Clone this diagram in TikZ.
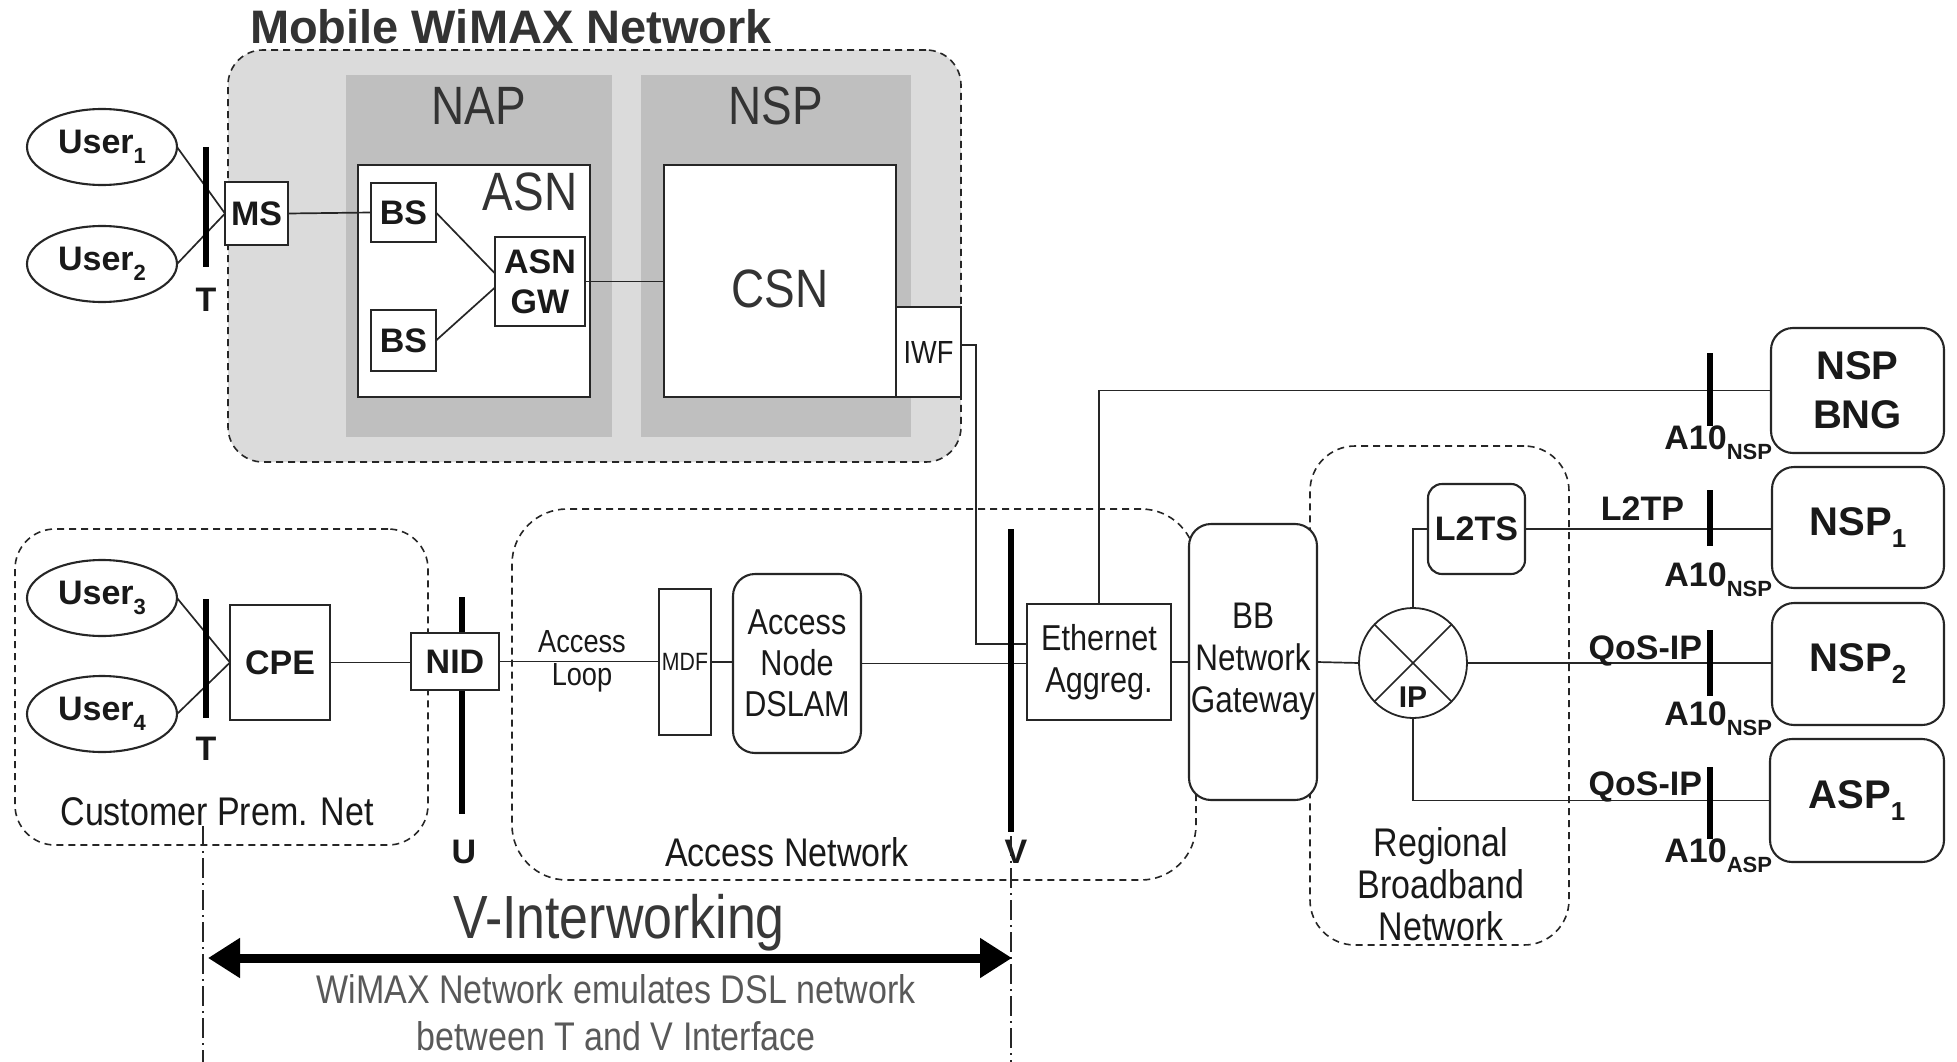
\documentclass[tikz,border=0pt]{standalone}
\usepackage{fontspec}
\setmainfont{Liberation Sans}
\newfontfamily\nf[FakeStretch=0.85]{Liberation Sans}
\usetikzlibrary{shapes.geometric,arrows.meta}
\newcommand\fsz[2]{\fontsize{#1}{#2}\selectfont}
\newcommand\lsub[2]{\raisebox{-0.3em}{\fontsize{#1}{#1}\selectfont #2}}
\begin{document}
\begin{tikzpicture}[x=1pt,y=-1pt,
  every node/.style={inner sep=0pt, outer sep=0pt, text=black!90},
  box/.style={draw=black!85, line width=2.1pt, fill=white},
  rbox/.style={box, rounded corners=16pt},
  wire/.style={draw=black!85, line width=1.7pt},
  bar/.style={draw=black, line width=6pt},
  dbox/.style={draw=black!85, line width=1.6pt, dash pattern=on 7pt off 5pt, rounded corners=40pt},
  bl/.style={font=\bfseries\fsz{34}{40}},
  rl/.style={font=\nf\fsz{38}{43}},
  dd/.style={draw=black!85, line width=1.4pt, dash pattern=on 20pt off 5pt on 2pt off 5pt},
]
\useasboundingbox (0,0) rectangle (1957,1062);

% ---------- Mobile WiMAX network ----------
\node[font=\bfseries\fsz{47}{50}, text=black!80] (title) at (511,27) {Mobile WiMAX Network};
\node[dbox, fill=gray!28, rounded corners=35pt, minimum width=733, minimum height=412] (wimax) at (594.5,256) {};
\node[fill=gray!50, minimum width=266, minimum height=362] (nap) at (479,256) {};
\node[fill=gray!50, minimum width=270, minimum height=362] (nsp) at (776,256) {};
\node[font=\nf\fsz{54}{58}, text=black!80] (naplbl) at (479,106) {NAP};
\node[font=\nf\fsz{54}{58}, text=black!80] (nsplbl) at (776,106) {NSP};
\node[box, minimum width=232, minimum height=232] (asn) at (474,281) {};
\node[font=\nf\fsz{54}{58}, text=black!80] (asnlbl) at (530,192) {ASN};
\node[box, bl, minimum width=65, minimum height=59] (bs1) at (403.5,212.5) {BS};
\node[box, bl, minimum width=65, minimum height=61] (bs2) at (403.5,340.5) {BS};
\node[box, bl, align=center, minimum width=90, minimum height=89] (asngw) at (540,281.5) {ASN\\GW};
\node[box, minimum width=232, minimum height=232] (csn) at (780,281) {};
\node[font=\nf\fsz{54}{58}, text=black!80] (csnlbl) at (780,289) {CSN};
\node[box, font=\nf\fsz{32}{36}, minimum width=65, minimum height=90] (iwf) at (928.5,352) {IWF};
\node[box, bl, minimum width=63, minimum height=63] (ms) at (256.5,213.5) {MS};
\node[draw=black!85, line width=2.1pt, ellipse, fill=white, bl, minimum width=150, minimum height=76] (u1) at (102,147) {User\lsub{22}{1}};
\node[draw=black!85, line width=2.1pt, ellipse, fill=white, bl, minimum width=150, minimum height=76] (u2) at (102,264) {User\lsub{22}{2}};
\coordinate (t1a) at (206,147);
\coordinate (t1b) at (206,267);
\node[bl] (t1lbl) at (206,300) {T};

% ---------- Customer premises / access ----------
\node[dbox, minimum width=413, minimum height=316] (cpn) at (221.5,687) {};
\node[font=\nf\fsz{40}{44}] (cpnlbl) at (217,812) {Customer Prem. Net};
\node[dbox, rounded corners=55pt, minimum width=684, minimum height=371] (an) at (854,694.5) {};
\node[font=\nf\fsz{40}{44}] (anlbl) at (787,852) {Access Network};
\node[dbox, rounded corners=45pt, minimum width=259, minimum height=499] (rbn) at (1439.5,695.5) {};
\node[font=\nf\fsz{40}{42}, align=center] (rbnlbl) at (1441,884) {Regional\\Broadband\\Network};

\node[draw=black!85, line width=2.1pt, ellipse, fill=white, bl, minimum width=150, minimum height=76] (u3) at (102,598) {User\lsub{22}{3}};
\node[draw=black!85, line width=2.1pt, ellipse, fill=white, bl, minimum width=150, minimum height=76] (u4) at (102,714) {User\lsub{22}{4}};
\coordinate (t2a) at (206,599);
\coordinate (t2b) at (206,718);
\node[bl] (t2lbl) at (206,749) {T};
\node[box, bl, minimum width=100, minimum height=115] (cpe) at (280,662.5) {CPE};
\coordinate (ua) at (462,597);
\coordinate (ub) at (462,814);
\draw[bar] (ua) -- (ub);
\node[box, bl, minimum width=88, minimum height=57] (nid) at (455,661.5) {NID};
\node[bl] (ulbl) at (464,852) {U};
\node[font=\nf\fsz{32}{33}, align=center] (loop) at (582,661) {Access\\Loop};
\node[box, font=\nf\fsz{25}{28}, minimum width=52, minimum height=146] (mdf) at (685,662) {MDF};
\node[box, rounded corners=22pt, font=\nf\fsz{36}{41}, align=center, minimum width=128, minimum height=179] (dslam) at (797,663.5) {Access\\Node\\DSLAM};
\node[box, font=\nf\fsz{36}{42}, align=center, minimum width=144, minimum height=116] (eth) at (1099,662) {Ethernet\\Aggreg.};
\node[box, rounded corners=22pt, font=\nf\fsz{37}{42}, align=center, minimum width=128, minimum height=276] (bbng) at (1253,662) {BB\\Network\\Gateway};
\coordinate (va) at (1011,529);
\coordinate (vb) at (1011,832);
\node[bl] (vlbl) at (1016,852) {V};

\node[draw=black!85, line width=1.8pt, ellipse, fill=white, minimum width=108, minimum height=110] (ip) at (1413,663) {};
\draw[wire] (ip.45) -- (ip.225);
\draw[wire] (ip.135) -- (ip.315);
\node[font=\bfseries\fsz{30}{34}, fill=white, inner sep=1pt] (iplbl) at (1413,697) {IP};
\node[rbox, bl, rounded corners=14pt, minimum width=97, minimum height=90] (l2ts) at (1476.5,529) {L2TS};

\node[rbox, rounded corners=22pt, font=\bfseries\fsz{40}{49}, align=center, minimum width=173, minimum height=125] (bng) at (1857.5,390.5) {NSP\\BNG};
\node[rbox, rounded corners=22pt, font=\bfseries\fsz{40}{49}, minimum width=172, minimum height=121] (nsp1) at (1858,527.5) {NSP\lsub{26}{1}};
\node[rbox, rounded corners=22pt, font=\bfseries\fsz{40}{49}, minimum width=172, minimum height=122] (nsp2) at (1858,664) {NSP\lsub{26}{2}};
\node[rbox, rounded corners=22pt, font=\bfseries\fsz{40}{49}, minimum width=174, minimum height=123] (asp1) at (1857,800.5) {ASP\lsub{26}{1}};

% ---------- wires ----------
\draw[wire] (u1.east) -- (ms.west);
\draw[wire] (u2.east) -- (ms.west);
\draw[wire] (ms.east) -- (bs1.west);
\draw[wire] (bs1.east) -- ([yshift=8pt]asngw.west);
\draw[wire] (bs2.east) -- ([yshift=-6pt]asngw.west);
\draw[wire] (asngw.east) -- (asngw.east -| csn.west);
\draw[wire] ([yshift=7pt]iwf.east) -- ++(15,0) |- ([yshift=18pt]eth.west);
\draw[wire] (u3.east) -- (cpe.west);
\draw[wire] (u4.east) -- (cpe.west);
\draw[wire] (cpe.east) -- (cpe.east -| nid.west);
\draw[wire] (nid.east) -- (nid.east -| mdf.west);
\draw[wire] (mdf.east) -- (mdf.east -| dslam.west);
\draw[wire] (dslam.east) -- (dslam.east -| eth.west);
\draw[wire] (eth.north) |- (bng.west);
\draw[wire] (eth.east) -- (eth.east -| bbng.west);
\draw[wire] (bbng.east) -- (ip.west);
\draw[wire] (ip.north) |- (l2ts.west);
\draw[wire] (l2ts.east) -- (l2ts.east -| nsp1.west);
\draw[wire] (ip.east) -- (ip.east -| nsp2.west);
\draw[wire] (ip.south) |- (asp1.west);

% ---------- interface bars ----------
\draw[bar] (t1a) -- (t1b);
\draw[bar] (t2a) -- (t2b);
\draw[bar] (va) -- (vb);
\coordinate (a1a) at (1710,353); \coordinate (a1b) at (1710,426);
\coordinate (a2a) at (1710,490); \coordinate (a2b) at (1710,546);
\coordinate (a3a) at (1710,630); \coordinate (a3b) at (1710,696);
\coordinate (a4a) at (1710,767); \coordinate (a4b) at (1710,839);
\draw[bar] (a1a) -- (a1b);
\draw[bar] (a2a) -- (a2b);
\draw[bar] (a3a) -- (a3b);
\draw[bar] (a4a) -- (a4b);
\node[bl, anchor=base east] (a1lbl) at (1772,449) {A10\lsub{22}{NSP}};
\node[bl, anchor=base east] (a2lbl) at (1772,586) {A10\lsub{22}{NSP}};
\node[bl, anchor=base east] (a3lbl) at (1772,725) {A10\lsub{22}{NSP}};
\node[bl, anchor=base east] (a4lbl) at (1772,862) {A10\lsub{22}{ASP}};
\node[bl, anchor=base east] (l2tp) at (1684,520) {L2TP};
\node[bl, anchor=base east] (qos1) at (1702,659) {QoS-IP};
\node[bl, anchor=base east] (qos2) at (1702,795) {QoS-IP};

% ---------- V-interworking ----------
\coordinate (d1a) at (203,826); \coordinate (d1b) at (203,1062);
\coordinate (d2a) at (1011,836); \coordinate (d2b) at (1011,1062);
\draw[dd] (d1a) -- (d1b);
\draw[dd] (d2a) -- (d2b);
\node[font=\nf\fsz{61}{64}, text=black!78] (vint) at (619,923) {V-Interworking};
\coordinate (arl) at (208,958);
\coordinate (arr) at (1012,958);
\draw[line width=9pt, {Triangle[length=32pt,width=38pt]}-{Triangle[length=32pt,width=38pt]}] (arl) -- (arr);
\node[font=\nf\fsz{40}{47}, text=black!65, align=center] (emu) at (616,1013) {WiMAX Network emulates DSL network\\between T and V Interface};
\end{tikzpicture}
\end{document}
